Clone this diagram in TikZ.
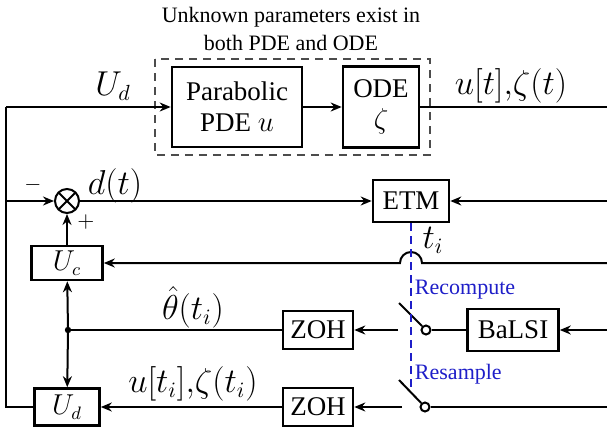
\documentclass[tikz,border=0pt]{standalone}
\usepackage{amsmath}
\usepackage{amssymb}
\usepackage{fontspec}
\setmainfont{Liberation Serif}
\usepackage{tikz}
\usetikzlibrary{positioning, arrows.meta}
\definecolor{trigblue}{RGB}{30,30,200}

\begin{document}
\begin{tikzpicture}[x=0.5pt,y=-0.5pt,->,>={Stealth[length=5.5pt,width=4.5pt]},line width=1pt]
\tikzstyle{block}=[draw=black,line width=1.3pt,rectangle,inner sep=0pt,font=\fontsize{13.5}{15.5}\selectfont,align=center]
\tikzstyle{lbl}=[font=\fontsize{16}{19}\selectfont,inner sep=0pt]
\tikzstyle{note}=[font=\fontsize{11}{14}\selectfont,inner sep=0pt]
\tikzstyle{contact}=[draw,circle,line width=1pt,fill=white,inner sep=0pt,minimum size=4.5pt]
\tikzstyle{mixer}=[draw,circle,line width=1pt,inner sep=0pt,minimum size=12pt,
  path picture={\draw[-] (path picture bounding box.north west) -- (path picture bounding box.south east)
  (path picture bounding box.north east) -- (path picture bounding box.south west);}]
\useasboundingbox (0,0) rectangle (607,430);

% plant
\node[block,minimum width=65pt,minimum height=40pt] (pde) at (237,107) {Parabolic\\PDE $u$};
\node[block,minimum width=38pt,minimum height=40.5pt] (ode) at (381,107) {ODE\\$\zeta$};
\draw[-,draw=black!70,dash pattern=on 4pt off 3pt,line width=0.6pt] (155,59) rectangle (430,155);
\node[note,align=center] (title) at (291,29) {Unknown parameters exist in\\both PDE and ODE};

% event trigger and controllers
\node[mixer] (sum) at (67,201) {};
\node[block,minimum width=38pt,minimum height=21pt] (etm) at (411,201) {ETM};
\node[block,minimum width=35.5pt,minimum height=17pt] (uc) at (67,263) {$U_c$};
\node[block,minimum width=32.5pt,minimum height=18.5pt] (ud) at (67,407) {$U_d$};

% identifier and samplers
\node[block,minimum width=35pt,minimum height=19pt] (zoh1) at (318,330) {ZOH};
\node[block,minimum width=35pt,minimum height=19pt] (zoh2) at (318,407) {ZOH};
\node[block,minimum width=45.5pt,minimum height=21pt] (balsi) at (513,330) {BaLSI};
\node[contact] (sw1) at (426,330) {};
\node[contact] (sw2) at (425,407) {};

\coordinate (l1) at (6,107);
\coordinate (l2) at (6,201);
\coordinate (l3) at (6,407);
\coordinate (r1) at (607,107);
\coordinate (r2) at (607,201);
\coordinate (r3) at (607,263);
\coordinate (r4) at (607,330);
\coordinate (r5) at (607,407);
\coordinate (j) at (68,330);
\coordinate (hopR) at (422,263);
\coordinate (b1) at (399,303);
\coordinate (b2) at (399,380);
\coordinate (a1) at (398,330);
\coordinate (a2) at (402,407);
\coordinate (bl) at (411,390);

% labels
\node[lbl] (udlbl) at (113,86) {$U_d$};
\node[lbl] (outlbl) at (511,86) {$u[t]{,}\zeta(t)$};
\node[lbl] (dlbl) at (115,186) {$d(t)$};
\node[note] (minus) at (33,185) {$-$};
\node[note] (plus) at (86,222) {$+$};
\node[lbl] (tlbl) at (433,240) {$t_i$};
\node[lbl] (thlbl) at (193,307) {$\hat{\theta}(t_i)$};
\node[lbl] (smlbl) at (193,384) {$u[t_i]{,}\zeta(t_i)$};
\node[note,text=trigblue,anchor=west] (recomp) at (414,290) {Recompute};
\node[note,text=trigblue,anchor=west] (resamp) at (414,374) {Resample};

\draw[-] (ud) -- (l3) -- (l1);
\path
(l1) edge (pde)
(pde) edge (ode)
(ode) edge[-] (r1)
(l2) edge (sum)
(sum) edge (etm)
(r2) edge (etm)
(uc) edge (sum)
(j) edge (uc)
(j) edge (ud)
(j) edge[-] (zoh1)
(a1) edge (zoh1)
(b1) edge[-] (sw1)
(sw1) edge[-] (balsi)
(r4) edge (balsi)
(a2) edge (zoh2)
(b2) edge[-] (sw2)
(sw2) edge[-] (r5)
(zoh2) edge (ud);
\draw (r3) -- (hopR) arc[start angle=0,end angle=180,radius=5.5pt] -- (uc);
\fill[-] (j) circle (1.6pt);
\draw[-,trigblue,dash pattern=on 4pt off 2.5pt,line width=0.9pt] (etm) -- (bl);
\end{tikzpicture}
\end{document}
